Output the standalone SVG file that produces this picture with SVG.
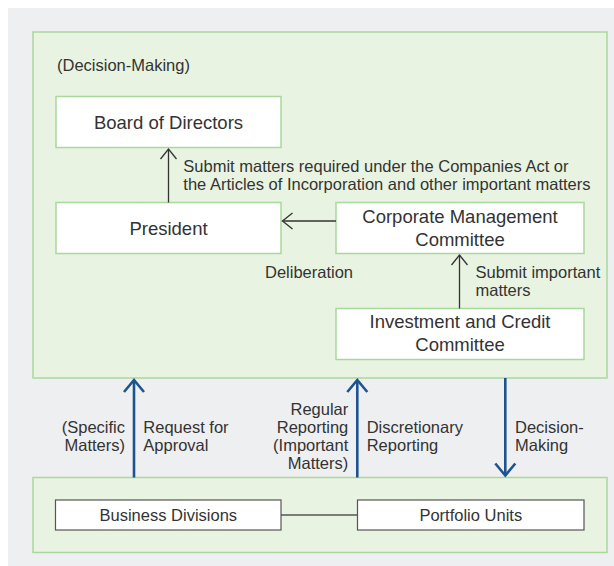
<svg xmlns="http://www.w3.org/2000/svg" width="614" height="566" viewBox="0 0 614 566">
<style>
text{font-family:"Liberation Sans",Arial,sans-serif;fill:#333}
.node{font-size:18.5px;text-anchor:middle}
.lbl{font-size:16.5px}
.end{text-anchor:end}
.panel{fill:#e8f3e1;stroke:#a9d89d;stroke-width:1.5}
.box{fill:#fff;stroke:#a9d89d;stroke-width:1.5}
.box2{fill:#fff;stroke:#555;stroke-width:1.2}
.blk{stroke:#333;stroke-width:1.3;fill:none}
.blue{stroke:#1f5390;stroke-width:2.6;fill:none}
</style>
<defs>
<marker id="ah" viewBox="-12 -12 24 24" markerWidth="24" markerHeight="24" refX="0" refY="0" orient="auto" markerUnits="userSpaceOnUse">
<path d="M-10,-8 L0,0 L-10,8" fill="none" stroke="#333" stroke-width="1.3"/>
</marker>
<marker id="bh" viewBox="-14 -14 28 28" markerWidth="28" markerHeight="28" refX="0" refY="0" orient="auto" markerUnits="userSpaceOnUse">
<path d="M-12,-10 L0,0 L-12,10" fill="none" stroke="#1f5390" stroke-width="2.6"/>
</marker>
</defs>
<rect x="8" y="8" width="606" height="558" fill="#eeeff1"/>
<g id="decision-panel">
<rect class="panel" x="33" y="32" width="574" height="346"/>
<text class="lbl" x="57" y="70.5">(Decision-Making)</text>
</g>
<g id="business-panel">
<rect class="panel" x="33" y="477.5" width="574" height="75"/>
</g>
<g id="board">
<rect class="box" x="56" y="96.5" width="225" height="51"/>
<text class="node" x="168.5" y="128.5">Board of Directors</text>
</g>
<g id="president">
<rect class="box" x="56" y="202.5" width="225" height="51"/>
<text class="node" x="168.5" y="235">President</text>
</g>
<g id="cmc">
<rect class="box" x="336" y="202.5" width="248" height="51"/>
<text class="node" x="460" y="222.5">Corporate Management</text>
<text class="node" x="460" y="246">Committee</text>
</g>
<g id="icc">
<rect class="box" x="336" y="308.5" width="248" height="51"/>
<text class="node" x="460" y="327.5">Investment and Credit</text>
<text class="node" x="460" y="351">Committee</text>
</g>
<g id="business-divisions">
<rect class="box2" x="55.5" y="500" width="225.5" height="30"/>
<text class="lbl" x="168.3" y="520.5" text-anchor="middle">Business Divisions</text>
</g>
<g id="portfolio-units">
<rect class="box2" x="357.5" y="500" width="226.5" height="30"/>
<text class="lbl" x="470.8" y="520.5" text-anchor="middle">Portfolio Units</text>
</g>
<g id="connectors">
<line class="blk" x1="168.5" y1="202.5" x2="168.5" y2="149" marker-end="url(#ah)"/>
<line class="blk" x1="336" y1="221" x2="282.5" y2="221" marker-end="url(#ah)"/>
<line class="blk" x1="459.5" y1="308.5" x2="459.5" y2="255" marker-end="url(#ah)"/>
<line x1="281" y1="515" x2="357.5" y2="515" stroke="#555" stroke-width="1.5"/>
<line class="blue" x1="134" y1="477.5" x2="134" y2="380" marker-end="url(#bh)"/>
<line class="blue" x1="357.3" y1="477.5" x2="357.3" y2="380" marker-end="url(#bh)"/>
<line class="blue" x1="505.3" y1="378" x2="505.3" y2="475.5" marker-end="url(#bh)"/>
</g>
<g id="labels">
<text class="lbl" x="183.3" y="172">Submit matters required under the Companies Act or</text>
<text class="lbl" x="183.3" y="189.7">the Articles of Incorporation and other important matters</text>
<text class="lbl" x="265" y="277.7">Deliberation</text>
<text class="lbl" x="475.5" y="278.3">Submit important</text>
<text class="lbl" x="475.5" y="295.5">matters</text>
<text class="lbl end" x="125" y="432.7">(Specific</text>
<text class="lbl end" x="125" y="450.7">Matters)</text>
<text class="lbl" x="143.3" y="432.7">Request for</text>
<text class="lbl" x="143.3" y="450.7">Approval</text>
<text class="lbl end" x="348.3" y="414.5">Regular</text>
<text class="lbl end" x="348.3" y="432.7">Reporting</text>
<text class="lbl end" x="348.3" y="450.7">(Important</text>
<text class="lbl end" x="348.3" y="468.7">Matters)</text>
<text class="lbl" x="366.7" y="432.7">Discretionary</text>
<text class="lbl" x="366.7" y="450.7">Reporting</text>
<text class="lbl" x="515" y="432.7">Decision-</text>
<text class="lbl" x="515" y="450.7">Making</text>
</g>
</svg>
